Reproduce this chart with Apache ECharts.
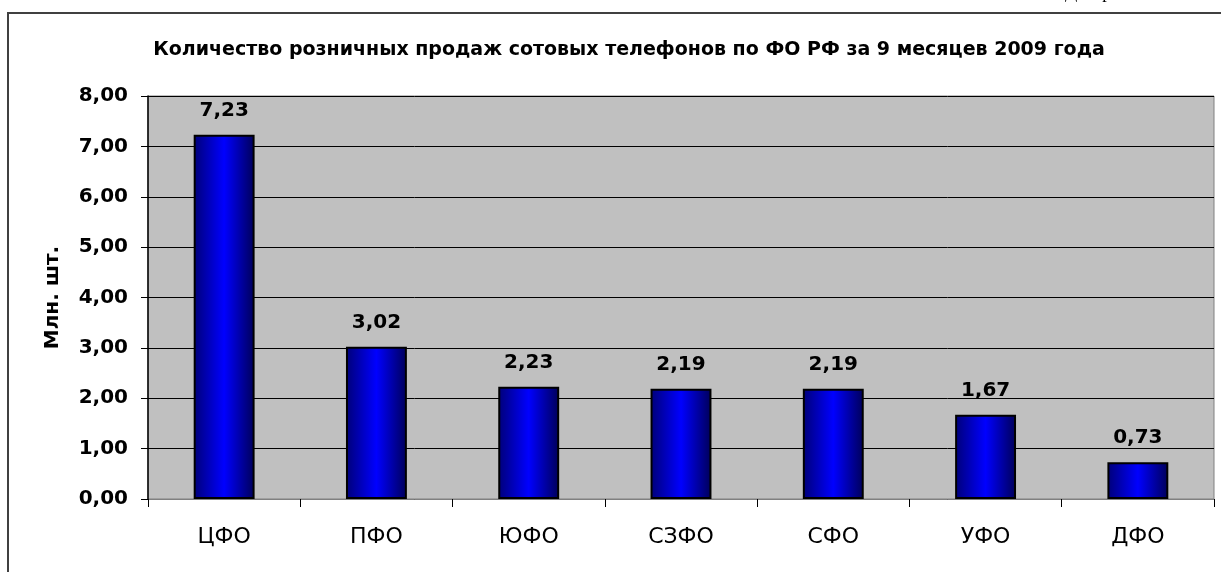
<!DOCTYPE html>
<html>
<head>
<meta charset="utf-8">
<script src="https://cdn.jsdelivr.net/npm/echarts@6/dist/echarts.min.js"></script>
<style>
  html, body { margin: 0; padding: 0; background: #fff; }
  #main { width: 1221px; height: 572px; }
</style>
</head>
<body>
<div id="main"></div>
<script>
// данные с диаграммы
var titleText = "Количество розничных продаж сотовых телефонов по ФО РФ за 9 месяцев 2009 года";
var regions = ["ЦФО", "ПФО", "ЮФО", "СЗФО", "СФО", "УФО", "ДФО"];
var sales = [7.23, 3.02, 2.23, 2.19, 2.19, 1.67, 0.73];
var yName = "Млн. шт.";

var font = "DejaVu Sans, Liberation Sans, Arial";

function comma(v, d) {
  return Number(v).toFixed(d).replace(".", ",");
}

var chart = echarts.init(document.getElementById("main"));
chart.setOption({
  animation: false,
  title: {
    text: titleText,
    left: 624,
    textAlign: "center",
    top: 36,
    textStyle: { fontFamily: font, fontWeight: "bold", fontSize: 19, color: "#000" }
  },
  graphic: [
    // рамка диаграммы
    { type: "line", shape: { x1: 8, y1: 13, x2: 1221, y2: 13 }, style: { stroke: "#404040", lineWidth: 2 } },
    { type: "line", shape: { x1: 8, y1: 12, x2: 8, y2: 572 }, style: { stroke: "#404040", lineWidth: 2 } },
    // обрезанная подпись сверху
    { type: "text", left: 1065, top: -16, z: -1, style: { text: "Диаграмма", font: "18px 'Liberation Serif', serif", fill: "#000" } }
  ],
  grid: {
    left: 148, right: 7, top: 96, bottom: 73,
    show: true, backgroundColor: "#C0C0C0", borderColor: "#808080", borderWidth: 1
  },
  xAxis: {
    type: "category",
    data: regions,
    axisLine: { lineStyle: { color: "#808080", width: 1 } },
    axisTick: { show: true, length: 8, alignWithLabel: false, lineStyle: { color: "#000" } },
    axisLabel: { margin: 27, fontFamily: font, fontSize: 22, color: "#000" }
  },
  yAxis: {
    type: "value",
    min: 0, max: 8, interval: 1,
    name: yName,
    nameLocation: "middle",
    nameGap: 85,
    nameTextStyle: { fontFamily: font, fontWeight: "bold", fontSize: 20, color: "#000" },
    axisLine: { show: true, lineStyle: { color: "#000", width: 1.5 } },
    axisTick: { show: true, length: 7, lineStyle: { color: "#000" } },
    axisLabel: {
      margin: 20,
      fontFamily: font, fontWeight: "bold", fontSize: 20, color: "#000",
      formatter: function (v) { return comma(v, 2); }
    },
    splitLine: { show: true, lineStyle: { color: "#000", width: 1 } }
  },
  series: [{
    type: "bar",
    data: sales,
    barWidth: "40%",
    itemStyle: {
      borderColor: "#000",
      borderWidth: 2,
      color: new echarts.graphic.LinearGradient(0, 0, 1, 0, [
        { offset: 0, color: "#000078" },
        { offset: 0.5, color: "#0000FF" },
        { offset: 1, color: "#000058" }
      ])
    },
    label: {
      show: true,
      position: "top",
      distance: 14,
      fontFamily: font, fontWeight: "bold", fontSize: 20, color: "#000",
      formatter: function (p) { return comma(p.value, 2); }
    }
  }]
});
</script>
</body>
</html>
